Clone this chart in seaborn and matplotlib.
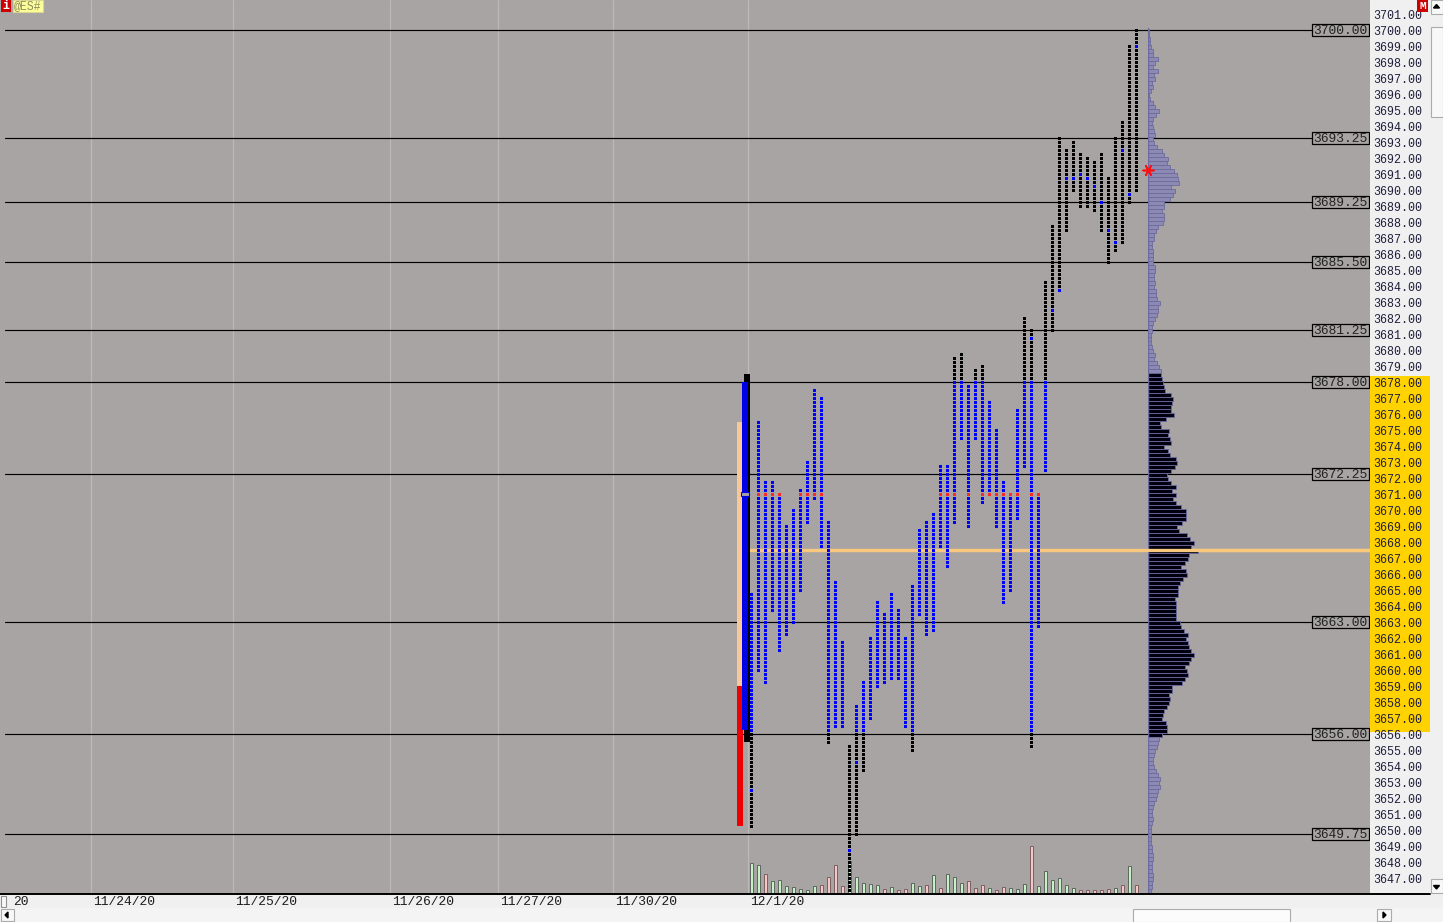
import matplotlib
matplotlib.use("Agg")
import matplotlib.pyplot as plt
import matplotlib.transforms as mtrans
from matplotlib.patches import Rectangle, Polygon
import numpy as np
import pandas as pd
import seaborn as sns

sns.set_theme(style="white")
plt.rcParams["font.family"] = ["Liberation Mono", "DejaVu Sans Mono"]

# ---------------- data ----------------
symbol = "@ES#"

# low / high of each bar of the 12/1/20 session (tick = 0.25)
tpo_low = [3650.25, 3660.00, 3659.25, 3663.75, 3661.25, 3662.25, 3663.00, 3665.00, 3669.25, 3670.75,
           3667.75, 3655.50, 3656.50, 3656.50, 3646.25, 3649.75, 3653.75, 3657.00, 3659.00, 3659.25,
           3659.50, 3659.50, 3656.50, 3655.00, 3663.50, 3662.25, 3662.50, 3667.75, 3666.50, 3669.25,
           3674.50, 3669.00, 3674.50, 3670.50, 3671.00, 3669.00, 3664.25, 3665.00, 3669.50, 3672.75,
           3655.25, 3662.75, 3672.50, 3681.25, 3683.75, 3687.50, 3690.00, 3689.00, 3689.00, 3688.75,
           3687.50, 3685.50, 3686.25, 3686.75, 3689.25, 3690.00]
tpo_high = [3664.75, 3675.50, 3671.75, 3671.75, 3671.00, 3669.00, 3670.00, 3671.25, 3673.00, 3677.50,
            3677.00, 3669.25, 3665.50, 3661.75, 3655.25, 3657.75, 3659.25, 3662.00, 3664.25, 3663.50,
            3664.75, 3663.75, 3662.00, 3665.25, 3668.75, 3669.25, 3669.75, 3672.75, 3672.75, 3679.50,
            3679.75, 3677.75, 3678.75, 3679.00, 3676.75, 3675.00, 3671.75, 3671.00, 3676.25, 3682.00,
            3681.25, 3671.00, 3684.25, 3687.75, 3693.25, 3692.50, 3693.00, 3692.25, 3692.00, 3691.75,
            3692.25, 3690.75, 3693.25, 3694.25, 3699.00, 3700.00]
# single blue prints outside the value area (bar -> price)
blue_prints = {0: 3652.50, 14: 3648.75, 15: 3654.25, 40: 3680.75, 43: 3682.50, 44: 3683.75,
               45: 3690.75, 46: 3690.75, 47: 3691.00, 48: 3690.75, 49: 3690.25, 50: 3689.25,
               51: 3687.50, 52: 3686.75, 53: 3692.50, 54: 3689.75, 55: 3699.00}
red_row = 3671.00
value_area = (3656.25, 3678.00)

bar_volume = [30, 28, 19, 12, 13, 7, 6, 4, 3, 7, 8, 16, 28, 7, 32, 16, 10, 9, 8, 4,
              6, 3, 4, 10, 7, 8, 18, 5, 19, 16, 10, 12, 5, 8, 5, 3, 6, 5, 4, 9,
              47, 7, 22, 13, 15, 8, 5, 3, 3, 3, 3, 4, 5, 8, 27, 8]
bar_up = [1, 1, 0, 1, 1, 1, 1, 1, 1, 1, 0, 0, 0, 0, 1, 1, 1, 1, 1, 0,
          1, 0, 0, 1, 1, 0, 1, 0, 1, 1, 1, 0, 0, 0, 1, 0, 0, 1, 1, 1,
          0, 1, 1, 1, 1, 1, 1, 0, 0, 0, 0, 0, 1, 0, 1, 0]

# volume profile, one value per tick from 3700.00 downwards
profile_top = 3700.00
profile_volume = [
    1.0, 1.0, 1.7, 1.7, 2.7, 5.0, 4.3, 9.3, 6.3, 4.3, 9.3, 5.3, 6.3, 3.3, 4.3, 2.3, 1.0, 2.0, 4.3, 6.3,
    10.3, 7.3, 4.3,
    3.7, 4.7, 5.7, 6.7, 5.0, 5.7, 8.3, 13.3, 16.0, 19.3, 18.3, 21.3, 25.3, 28.3, 29.3, 30.3, 22.3, 26.3,
    24.3, 21.3, 15.3, 15.3, 13.3, 15.3, 15.3, 14.3, 9.3, 7.3, 5.3, 5.3, 3.3, 3.3, 4.3, 4.3, 4.3, 4.3,
    6.3, 6.3, 5.3, 5.3, 6.3, 5.3, 7.3, 7.3, 8.3, 11.3, 9.3, 9.3, 8.3, 6.3,
    5.0, 4.0, 4.0, 3.0, 3.0, 3.0, 4.0, 5.0, 7.0, 6.0, 9.0, 11.0, 12.3,
    13.0, 14.0, 14.7, 15.7, 17.0, 23.0, 25.0, 23.3, 22.3, 23.0, 26.0, 18.0, 11.7, 12.7, 21.0, 20.0,
    21.7, 23.0, 15.7, 20.0, 22.0, 28.0, 28.7, 27.0, 23.0, 18.3, 20.0, 23.0, 28.0, 24.0, 28.0, 25.0,
    28.0, 33.0, 38.0, 38.0, 38.0, 33.7, 29.0, 30.7, 39.0, 42.0, 46.0, 43.0, 49.3, 41.0, 40.0, 37.0,
    33.0, 38.0, 39.0, 35.0, 32.0, 30.0, 30.0, 30.0, 27.0, 28.0, 28.0, 28.0, 28.0, 28.0, 32.0, 33.0,
    36.0, 40.0, 38.0, 40.0, 41.0, 43.0, 46.0, 43.0, 41.0, 37.0, 39.0, 40.0, 37.0, 34.0, 24.0, 24.0,
    21.0, 22.0, 21.0, 19.0, 16.0, 15.0, 14.0, 18.0, 19.0, 19.0, 14.0,
    10.3, 9.3, 8.3, 7.0, 6.0, 5.0, 5.0, 6.0, 8.0, 10.0, 12.0, 11.0, 12.0, 10.0, 9.0, 8.0, 6.0, 5.0,
    4.0, 4.0, 5.0, 4.0, 3.0, 3.0, 3.0, 3.0, 3.0, 4.0, 4.0, 5.0, 5.0, 4.0, 4.0, 4.0, 5.0, 5.0, 4.0,
    4.0, 3.0]
profile_va = (3656.00, 3678.50)
poc_price = 3667.50
vpoc_mark = 3691.25

ref_levels = [3700.00, 3693.25, 3689.25, 3685.50, 3681.25, 3678.00, 3672.25, 3663.00, 3656.00, 3649.75]
price_ticks = list(range(3647, 3702))
axis_highlight = (3656.15, 3678.40)

# session starts in bar units (12/1/20 first bar = 0)
date_labels = ["20", "11/24/20", "11/25/20", "11/26/20", "11/27/20", "11/30/20", "12/1/20"]
date_x = [-105.8, -94.4, -74.1, -51.6, -36.2, -19.8, -0.5]

ib_range = (3659.00, 3675.50)
ib_ext_range = (3650.25, 3659.00)
day_range = (3655.50, 3678.50)
va_range = (3656.25, 3678.00)
range_mark = 3671.00

# ---------------- layout ----------------
W, H = 1443, 922
PLOT_W, PLOT_H = 1370, 893
X0, DX = 751.5, 7.0
Y0, DY = 30.0, 16.0
BG = "#A8A4A3"
YLIM = (3700 - (PLOT_H - Y0) / DY, 3700 + Y0 / DY)
DOT_COLORS = {"blue": "#0000FF", "black": "#000000", "red": "#FF2828"}


def bx(px):
    return (px - X0) / DX


fig = plt.figure(figsize=(W / 100, H / 100), dpi=100)
fig.patch.set_facecolor(BG)
main_rect = [0, 1 - PLOT_H / H, PLOT_W / W, PLOT_H / H]


def bare(a):
    a.set_xticks([])
    a.set_yticks([])
    a.set_xlabel("")
    a.set_ylabel("")
    for s in a.spines.values():
        s.set_visible(False)


# volume bars (below the main axes so dots sit on top)
axv = fig.add_axes(main_rect, zorder=1)
axv.patch.set_visible(False)
axv.set_xlim(bx(0), bx(PLOT_W))
axv.set_ylim(0, PLOT_H)
vol_df = pd.DataFrame({"bar": np.arange(len(bar_volume)), "vol": bar_volume, "up": bar_up})
axv.bar(vol_df["bar"] + 0.07, vol_df["vol"], width=3 / DX,
        color=np.where(vol_df["up"] == 1, "#C6F0C6", "#F5C6C6"),
        edgecolor=np.where(vol_df["up"] == 1, "#5E665E", "#7A6060"), linewidth=0.7)
bare(axv)

ax = fig.add_axes(main_rect, zorder=2)
ax.patch.set_visible(False)
ax.set_xlim(bx(0), bx(PLOT_W))
ax.set_ylim(*YLIM)

for x in date_x[1:]:
    ax.axvline(x, color="#BDB9B8", lw=0.9, zorder=0)

for lv in ref_levels:
    ax.axhline(lv, xmin=5 / PLOT_W, xmax=1312 / PLOT_W, color="black", lw=0.85, zorder=1)

ax.axhline(poc_price, xmin=750 / PLOT_W, xmax=1, color="#F8C87C", lw=2.4, zorder=2)

# left side range bars
ax.bar(bx(739.5), ib_range[1] - ib_range[0], bottom=ib_range[0], width=5 / DX,
       color="#FAC896", linewidth=0, zorder=3)
ax.bar(bx(740), ib_ext_range[1] - ib_ext_range[0], bottom=ib_ext_range[0], width=6 / DX,
       color="#F00000", linewidth=0, zorder=3)
ax.bar(bx(747), day_range[1] - day_range[0], bottom=day_range[0], width=6 / DX,
       color="black", linewidth=0, zorder=3)
ax.bar(bx(745), va_range[1] - va_range[0], bottom=va_range[0], width=6 / DX,
       color="#0000E6", linewidth=0, zorder=3)
ax.bar(bx(744.5), 0.28, bottom=range_mark - 0.14, width=8 / DX,
       color="#A8A4A3", edgecolor="#0000E6", linewidth=0.8, zorder=4)

# TPO dots: one 3x3 px square per traded tick
rows = []
for i, (lo, hi) in enumerate(zip(tpo_low, tpo_high)):
    for p in np.arange(lo, hi + 0.001, 0.25):
        if abs(p - red_row) < 1e-6:
            kind = "red"
        elif value_area[0] <= p <= value_area[1] or abs(blue_prints.get(i, -1) - p) < 1e-6:
            kind = "blue"
        else:
            kind = "black"
        rows.append((i, p, kind))
tpo = pd.DataFrame(rows, columns=["bar", "price", "kind"])
dot_h = 3 / DY
dots = ax.bar(tpo["bar"], dot_h, bottom=tpo["price"] - dot_h / 2, width=3 / DX,
              color=tpo["kind"].map(DOT_COLORS), linewidth=0, zorder=5)
for r in dots:
    r.set_snap(True)
    r.set_antialiased(False)

# reference level boxes
blend = mtrans.blended_transform_factory(
    mtrans.Affine2D().scale(1 / PLOT_W, 1) + ax.transAxes, ax.transData)
for lv in ref_levels:
    ax.add_patch(Rectangle((1312, lv - 0.36), 57, 0.72, transform=blend, facecolor=BG,
                           edgecolor="black", linewidth=0.9, zorder=6))
    ax.text(1340.5, lv - 0.06, f"{lv:.2f}", transform=blend, ha="center", va="center",
            fontsize=9.4, color="#222222", zorder=7)
bare(ax)

# volume profile
PROF_X = 1148.3
axp = fig.add_axes([PROF_X / W, 1 - PLOT_H / H, (PLOT_W - PROF_X) / W, PLOT_H / H], zorder=3)
axp.patch.set_visible(False)
axp.set_xlim(0, PLOT_W - PROF_X)
axp.set_ylim(*YLIM)
prof = pd.DataFrame({"price": profile_top - 0.25 * np.arange(len(profile_volume)),
                     "vol": profile_volume})
in_va = prof["price"].between(*profile_va)
axp.barh(prof["price"] - 0.045, prof["vol"], height=0.25, left=0,
         color=np.where(in_va, "#00000E", "#8C8AB2"), edgecolor="#6C6A9E", linewidth=0.6)
axp.plot([0, 0], [YLIM[0], profile_top + 0.1], color="#6C6A9E", lw=1.0)
axp.axhline(poc_price, color="#F8C87C", lw=2.4)
axp.scatter([0], [vpoc_mark], marker=(6, 2, 90), s=60, color="#FF1010", linewidths=1.2,
            zorder=5, clip_on=False)
bare(axp)

# right price axis
axr = fig.add_axes([PLOT_W / W, 1 - PLOT_H / H, 60 / W, PLOT_H / H], zorder=2)
axr.set_facecolor("#F0F0F0")
bare(axr)
axr.set_xlim(0, 60)
axr.set_ylim(*YLIM)
axr.axhspan(*axis_highlight, color="#FFD200", lw=0)
for p in price_ticks:
    axr.text(3.5, p - 0.12, f"{p:.2f}", ha="left", va="center", fontsize=8.35, color="#1E1E3C")

# window chrome in pixel coordinates
ov = fig.add_axes([0, 0, 1, 1], zorder=10)
ov.set_xlim(0, W)
ov.set_ylim(H, 0)
ov.axis("off")
ov.add_patch(Rectangle((0, 893), 1430, 15, facecolor="#F0F0F0", linewidth=0))
ov.plot([0, 1430], [893.8, 893.8], color="black", lw=1.4)
ov.add_patch(Rectangle((0.5, 896), 5, 11, facecolor="#F8F8F8", edgecolor="#909090", lw=0.8))
xt = mtrans.blended_transform_factory(ax.transData, ov.transData)
for lab, x in zip(date_labels, date_x):
    ov.text(x + 2 / DX, 902, lab, transform=xt, ha="left", va="center", fontsize=9.4,
            color="#1E1E1E")
ov.add_patch(Rectangle((0, 908), W, 14, facecolor="#F4F4F4", linewidth=0))
ov.add_patch(Rectangle((1, 909), 13, 12, facecolor="#F8F8F8", edgecolor="#ABABAB", lw=0.8))
ov.add_patch(Polygon([[5, 915], [8, 912], [8, 918]], closed=True, color="black"))
ov.add_patch(Rectangle((1133, 908.5), 157, 13, facecolor="#FCFCFC", edgecolor="#ABABAB", lw=0.8))
ov.add_patch(Rectangle((1377, 909), 14, 12, facecolor="#F8F8F8", edgecolor="#ABABAB", lw=0.8))
ov.add_patch(Polygon([[1386, 915], [1383, 912], [1383, 918]], closed=True, color="black"))
ov.add_patch(Rectangle((1430, 0), 13, 908, facecolor="#F0F0F0", linewidth=0))
ov.add_patch(Rectangle((1430.5, 0.5), 12, 14, facecolor="#F8F8F8", edgecolor="#ABABAB", lw=0.8))
ov.add_patch(Polygon([[1436.5, 4.5], [1433.5, 8], [1439.5, 8]], closed=True, color="black"))
ov.add_patch(Rectangle((1430.5, 27), 12, 90, facecolor="#F8F8F8", edgecolor="#ABABAB", lw=0.8))
ov.add_patch(Rectangle((1430.5, 879), 12, 14, facecolor="#F8F8F8", edgecolor="#ABABAB", lw=0.8))
ov.add_patch(Polygon([[1436.5, 889], [1433.5, 885.5], [1439.5, 885.5]], closed=True, color="black"))
ov.add_patch(Rectangle((1417, 0), 11, 12, facecolor="#CC0000", linewidth=0))
ov.text(1422.5, 6, "M", ha="center", va="center", fontsize=8, color="white", fontweight="bold")
ov.add_patch(Rectangle((1, 0), 10, 12, facecolor="#CC0000", linewidth=0))
ov.text(6, 6, "i", ha="center", va="center", fontsize=8.5, color="white", fontweight="bold")
ov.add_patch(Rectangle((13, 0), 30, 12, facecolor="#FFFF99", edgecolor="#D8D890", lw=0.8))
ov.text(28, 6, symbol, ha="center", va="center", fontsize=8.3, color="#8C8C60")

fig.savefig("out.png", dpi=100, facecolor=fig.get_facecolor())
